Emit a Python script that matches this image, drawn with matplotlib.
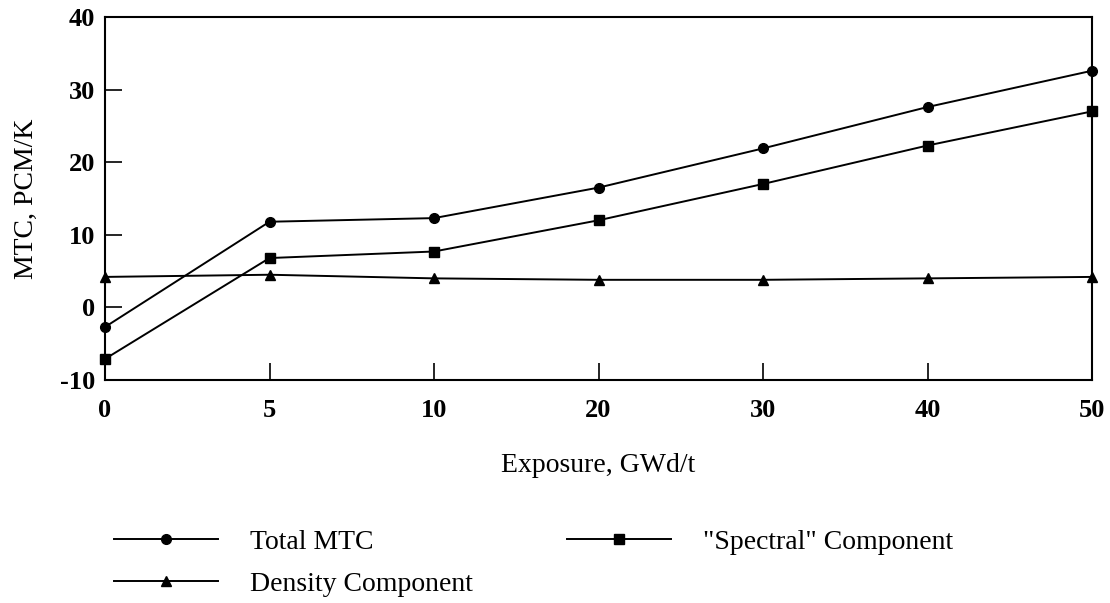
import matplotlib
matplotlib.use("Agg")
import matplotlib.pyplot as plt

plt.rcParams['font.family'] = ['Liberation Serif', 'DejaVu Serif']
plt.rcParams['axes.unicode_minus'] = False

# exposure points (GWd/t), plotted at equal spacing
exposure = ['0', '5', '10', '20', '30', '40', '50']
total_mtc = [-2.7, 11.8, 12.3, 16.5, 21.9, 27.6, 32.6]
spectral = [-7.1, 6.8, 7.7, 12.0, 17.0, 22.3, 27.0]
density = [4.2, 4.5, 4.0, 3.8, 3.8, 4.0, 4.2]

fig = plt.figure(figsize=(11.1, 6.03), dpi=100)
ax = fig.add_axes([0.0946, 0.3698, 0.8892, 0.602])

xs = range(len(exposure))
l1, = ax.plot(xs, total_mtc, color='black', lw=1.4, marker='o', ms=7,
              label='Total MTC', clip_on=False)
l2, = ax.plot(xs, spectral, color='black', lw=1.4, marker='s', ms=7,
              label='"Spectral" Component', clip_on=False)
l3, = ax.plot(xs, density, color='black', lw=1.4, marker='^', ms=7,
              label='Density Component', clip_on=False)

ax.set_xlim(0, len(exposure) - 1)
ax.set_ylim(-10, 40)
ax.set_xticks(list(xs))
ax.set_xticklabels(exposure)
ax.set_yticks([-10, 0, 10, 20, 30, 40])
ax.tick_params(direction='in', length=12, width=1.2, labelsize=19)
ax.tick_params(axis='y', pad=7)
ax.tick_params(axis='x', pad=14)
for lab in ax.get_xticklabels() + ax.get_yticklabels():
    lab.set_fontweight('bold')
for sp in ax.spines.values():
    sp.set_linewidth(1.5)

ax.set_xlabel('Exposure, GWd/t', fontsize=20, labelpad=22)
ax.set_ylabel('MTC, PCM/K', fontsize=20, labelpad=15)

fig.legend([l1, l3, l2], [l1.get_label(), l3.get_label(), l2.get_label()],
           loc='upper left', bbox_to_anchor=(0.1027, 0.122), ncol=2,
           frameon=False, fontsize=20, handlelength=3.74,
           handletextpad=1.15, columnspacing=3.4, labelspacing=0.6,
           borderaxespad=0, borderpad=0)

fig.savefig('out.png', dpi=100)
